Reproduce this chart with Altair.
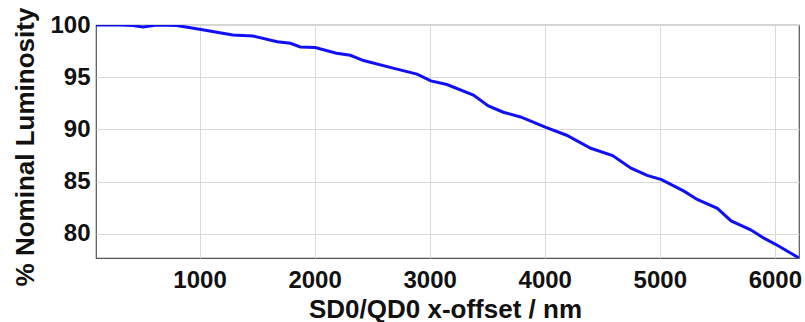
import altair as alt
import pandas as pd

x_nm = [100, 300, 420, 510, 630, 800, 1000, 1150, 1290, 1465, 1675, 1790, 1875,
        2005, 2190, 2310, 2425, 2690, 2890, 3010, 3150, 3380, 3510, 3640, 3790,
        4010, 4190, 4400, 4590, 4750, 4890, 5015, 5210, 5325, 5500, 5620, 5790,
        5905, 6025, 6210]
lumi = [100, 100, 99.95, 99.8, 100, 99.95, 99.6, 99.3, 99.05, 98.95, 98.4, 98.25,
        97.9, 97.85, 97.3, 97.1, 96.6, 95.85, 95.3, 94.65, 94.3, 93.3, 92.25, 91.65,
        91.2, 90.2, 89.45, 88.2, 87.5, 86.3, 85.6, 85.2, 84.1, 83.3, 82.45, 81.25,
        80.4, 79.6, 78.9, 77.7]
x_ticks = [1000, 2000, 3000, 4000, 5000, 6000]
y_ticks = [80, 85, 90, 95, 100]

df = pd.DataFrame({"x": x_nm, "y": lumi})

chart = alt.Chart(df).mark_line(color="#1010f8", strokeWidth=3, clip=True).encode(
    x=alt.X("x:Q", scale=alt.Scale(domain=[100, 6210], nice=False, zero=False),
            axis=alt.Axis(values=x_ticks, format="d", title="SD0/QD0 x-offset / nm",
                          labelPadding=10, titleX=349, titleY=59,
                          titleBaseline="alphabetic")),
    y=alt.Y("y:Q", scale=alt.Scale(domain=[77.7, 100], nice=False, zero=False),
            axis=alt.Axis(values=y_ticks, format="d", title="% Nominal Luminosity",
                          labelPadding=6, titleX=-63, titleY=121.5, titleAngle=-90,
                          titleAlign="center", titleBaseline="alphabetic")),
).properties(
    width=703, height=233,
    autosize=alt.AutoSizeParams(type="none"),
    padding={"left": 96, "top": 25, "right": 6, "bottom": 64},
).configure_view(
    stroke="#555555", strokeWidth=1.2
).configure_axis(
    labelFont="Liberation Sans", labelFontWeight="bold", labelFontSize=24,
    labelColor="#111111",
    titleFont="Liberation Sans", titleFontWeight="bold", titleFontSize=26,
    titleColor="#111111",
    grid=True, gridColor="#d8d8d8", gridWidth=1,
    domain=False, ticks=False,
)

chart.save("out.html", embed_options={"renderer": "svg", "actions": False})
